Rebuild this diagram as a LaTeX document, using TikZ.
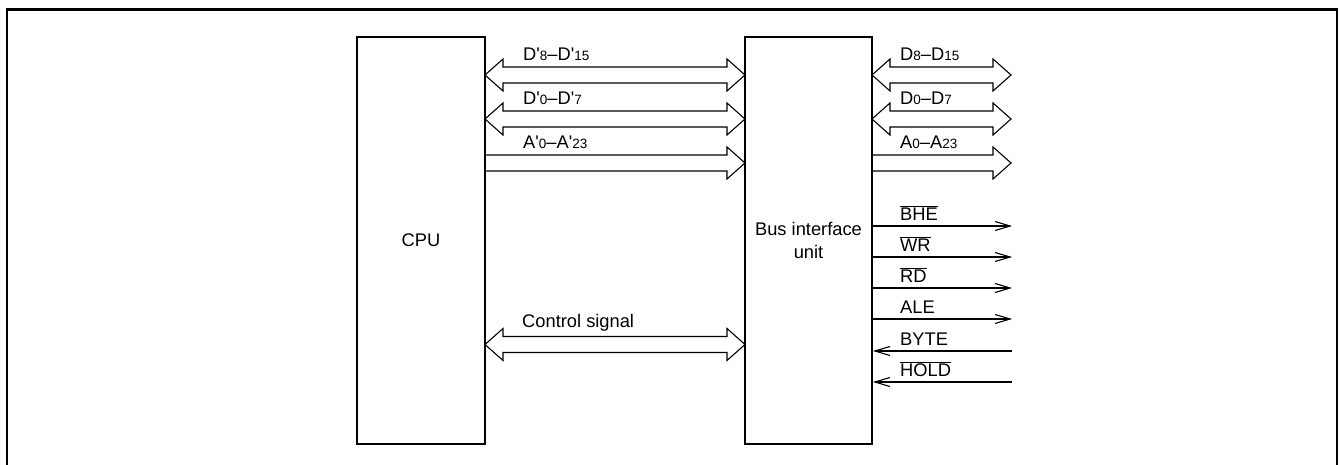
\documentclass[tikz,border=0pt]{standalone}
\usepackage{fontspec}
\setmainfont{Liberation Sans}[Ligatures=TeXOff]
\usetikzlibrary{arrows.meta}
\newcommand\sbs[1]{{\fontsize{13.5}{13.5}\selectfont #1}}
\newcommand\ovl[1]{$\overline{\mbox{#1}}$}
% hollow double arrow: x1, x2, y (centre)
\newcommand\dbl[3]{%
  \draw[bus] (#1,#3) -- ++(18,-16) -- ++(0,8) -- ({#2-18},{#3-8}) -- ++(0,-8)
    -- (#2,#3) -- ++(-18,16) -- ++(0,-8) -- ({#1+18},{#3+8}) -- ++(0,8) -- cycle;}
% hollow single arrow: x1, x2, y (centre)
\newcommand\sgl[3]{%
  \draw[bus] (#1,{#3-8}) -- ({#2-18},{#3-8}) -- ++(0,-8)
    -- (#2,#3) -- ++(-18,16) -- ++(0,-8) -- (#1,{#3+8});}
\begin{document}
\begin{tikzpicture}[x=1pt,y=-1pt,
  box/.style={draw, line width=2pt, minimum width=128pt, minimum height=407pt,
    inner sep=0pt, font=\fontsize{18.3}{23}\selectfont, align=center},
  bus/.style={line width=1.1pt, line join=miter},
  lbl/.style={anchor=base west, inner sep=0pt, font=\fontsize{18.3}{22}\selectfont},
  sig/.style={line width=1.1pt, -{Straight Barb[length=15pt,width=9pt,line width=1.1pt]}}]
\useasboundingbox (0,0) rectangle (1340,465);
\draw[line width=2.2pt] (7,475) -- (7,9.5) -- (1337,9.5) -- (1337,475);

\node[box] (cpu) at (421,240.5) {CPU};
\node[box, minimum width=127pt] (biu) at (808.5,240.5) {Bus interface\\unit};

% CPU <-> BIU buses
\dbl{485}{745}{75}
\dbl{485}{745}{119}
\sgl{485}{745}{163}
\dbl{485}{745}{344.5}
\node[lbl] (l1) at (523,61) {D'\sbs{8}–D'\sbs{15}};
\node[lbl] (l2) at (523,105) {D'\sbs{0}–D'\sbs{7}};
\node[lbl] (l3) at (523,149) {A'\sbs{0}–A'\sbs{23}};
\node[lbl] (l4) at (522,327) {Control signal};

% external buses
\dbl{872}{1011}{75}
\dbl{872}{1011}{119}
\sgl{872}{1011}{163}
\node[lbl] (r1) at (900,61) {D\sbs{8}–D\sbs{15}};
\node[lbl] (r2) at (900,105) {D\sbs{0}–D\sbs{7}};
\node[lbl] (r3) at (900,149) {A\sbs{0}–A\sbs{23}};

% single signals
\coordinate (s1) at (1012,226);
\coordinate (s2) at (1012,257);
\coordinate (s3) at (1012,288);
\coordinate (s4) at (1012,319);
\coordinate (s5) at (1012,351);
\coordinate (s6) at (1012,382);
\draw[sig] (biu.east |- s1) -- (s1);
\draw[sig] (biu.east |- s2) -- (s2);
\draw[sig] (biu.east |- s3) -- (s3);
\draw[sig] (biu.east |- s4) -- (s4);
\draw[sig] (s5) -- (biu.east |- s5);
\draw[sig] (s6) -- (biu.east |- s6);
\node[lbl] (t1) at (900,220) {\ovl{BHE}};
\node[lbl] (t2) at (900,251) {\ovl{WR}};
\node[lbl] (t3) at (900,282) {\ovl{RD}};
\node[lbl] (t4) at (900,313) {ALE};
\node[lbl] (t5) at (900,345) {BYTE};
\node[lbl] (t6) at (900,376) {\ovl{HOLD}};
\end{tikzpicture}
\end{document}
